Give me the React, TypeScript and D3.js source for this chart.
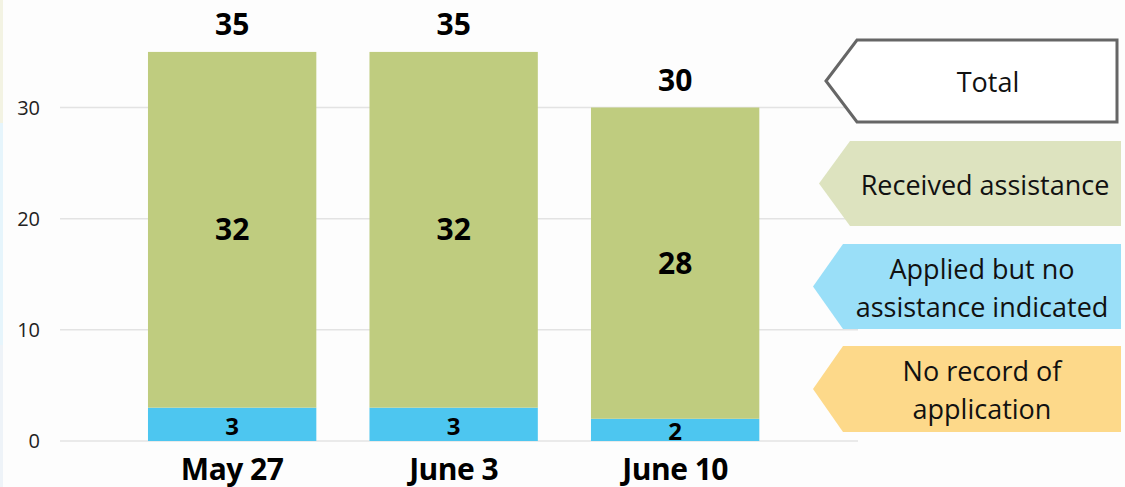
import React, { useEffect, useRef } from 'react';
import * as d3 from 'd3';

const categories = ['May 27', 'June 3', 'June 10'];
const applied = [3, 3, 2];
const received = [32, 32, 28];
const totals = [35, 35, 30];
const yTicks = [0, 10, 20, 30];
const legendItems = [
  { lines: ['Total'], fill: '#ffffff', stroke: '#666666' },
  { lines: ['Received assistance'], fill: '#dde3bf', stroke: 'none' },
  { lines: ['Applied but no', 'assistance indicated'], fill: '#9adff8', stroke: 'none' },
  { lines: ['No record of', 'application'], fill: '#fdd98a', stroke: 'none' },
];

const App = () => {
  const ref = useRef<SVGSVGElement | null>(null);

  useEffect(() => {
    const width = 1125;
    const height = 487;
    const font = '"Open Sans", "Noto Sans", sans-serif';

    const svg = d3.select(ref.current);
    svg.selectAll('*').remove();
    svg.attr('width', width).attr('height', height);

    svg.append('rect').attr('width', width).attr('height', height).attr('fill', '#fdfdfd');
    // thin tinted strip at the left edge
    svg.append('rect').attr('x', 0).attr('y', 0).attr('width', 3).attr('height', 123).attr('fill', '#f3f3e3');
    svg.append('rect').attr('x', 0).attr('y', 123).attr('width', 3).attr('height', 222).attr('fill', '#e6f5fc');
    svg.append('rect').attr('x', 0).attr('y', 345).attr('width', 3).attr('height', 142).attr('fill', '#eef3f8');

    const xScale = d3.scaleBand()
      .domain(categories)
      .range([121.4, 785.9])
      .paddingInner(0.24)
      .paddingOuter(0.12);

    const yScale = d3.scaleLinear()
      .domain([0, 30])
      .range([441, 107.5]);

    // gridlines
    svg.append('g')
      .selectAll('line')
      .data(yTicks)
      .enter()
      .append('line')
      .attr('x1', 60)
      .attr('x2', 858)
      .attr('y1', d => yScale(d))
      .attr('y2', d => yScale(d))
      .attr('stroke', '#e3e3e3')
      .attr('stroke-width', 1.5);

    svg.append('g')
      .selectAll('text')
      .data(yTicks)
      .enter()
      .append('text')
      .attr('x', 40)
      .attr('y', d => yScale(d))
      .attr('dy', '0.35em')
      .attr('text-anchor', 'end')
      .style('font-family', font)
      .style('font-size', '20px')
      .attr('fill', '#222')
      .text(d => d);

    // stacked bars
    const bars = svg.append('g');
    categories.forEach((c, i) => {
      const x = xScale(c)!;
      const w = xScale.bandwidth();
      bars.append('rect')
        .attr('x', x)
        .attr('y', yScale(applied[i]))
        .attr('width', w)
        .attr('height', yScale(0) - yScale(applied[i]))
        .attr('fill', '#4dc6f0');
      bars.append('rect')
        .attr('x', x)
        .attr('y', yScale(applied[i] + received[i]))
        .attr('width', w)
        .attr('height', yScale(applied[i]) - yScale(applied[i] + received[i]))
        .attr('fill', '#bfcc7f');

      const cx = x + w / 2;
      bars.append('text')
        .attr('x', cx)
        .attr('y', yScale(applied[i] / 2) + 2)
        .attr('dy', '0.35em')
        .attr('text-anchor', 'middle')
        .style('font-family', font)
        .style('font-weight', 'bold')
        .style('font-size', '24px')
        .text(applied[i]);
      bars.append('text')
        .attr('x', cx)
        .attr('y', yScale(applied[i] + received[i] / 2))
        .attr('dy', '0.35em')
        .attr('text-anchor', 'middle')
        .style('font-family', font)
        .style('font-weight', 'bold')
        .style('font-size', '30px')
        .text(received[i]);
      bars.append('text')
        .attr('x', cx)
        .attr('y', yScale(totals[i]) - 27)
        .attr('dy', '0.35em')
        .attr('text-anchor', 'middle')
        .style('font-family', font)
        .style('font-weight', 'bold')
        .style('font-size', '30px')
        .text(totals[i]);
      bars.append('text')
        .attr('x', cx)
        .attr('y', 469)
        .attr('dy', '0.35em')
        .attr('text-anchor', 'middle')
        .style('font-family', font)
        .style('font-weight', 'bold')
        .style('font-size', '30px')
        .style('letter-spacing', '-0.5px')
        .text(c);
    });

    // arrow-shaped legend
    const boxes = [
      { tip: 826, left: 857, top: 40, bottom: 122, right: 1117, cx: 988 },
      { tip: 819, left: 850, top: 141, bottom: 226, right: 1121, cx: 985 },
      { tip: 813, left: 843, top: 244, bottom: 329, right: 1121, cx: 982 },
      { tip: 813, left: 843, top: 346, bottom: 432, right: 1121, cx: 982 },
    ];
    const legend = svg.append('g');
    legendItems.forEach((item, i) => {
      const b = boxes[i];
      const mid = (b.top + b.bottom) / 2;
      legend.append('path')
        .attr('d', `M${b.tip},${mid}L${b.left},${b.top}L${b.right},${b.top}L${b.right},${b.bottom}L${b.left},${b.bottom}Z`)
        .attr('fill', item.fill)
        .attr('stroke', item.stroke)
        .attr('stroke-width', 3);
      const lh = 38;
      item.lines.forEach((line, j) => {
        legend.append('text')
          .attr('x', b.cx)
          .attr('y', mid + 2 + (j - (item.lines.length - 1) / 2) * lh)
          .attr('dy', '0.35em')
          .attr('text-anchor', 'middle')
          .style('font-family', font)
          .style('font-size', '27px')
          .attr('fill', '#111')
          .text(line);
      });
    });
  }, []);

  return (
    <div style={{ position: 'absolute', left: 0, top: 0 }}>
      <svg ref={ref} style={{ display: 'block' }}></svg>
    </div>
  );
};

export default App;
